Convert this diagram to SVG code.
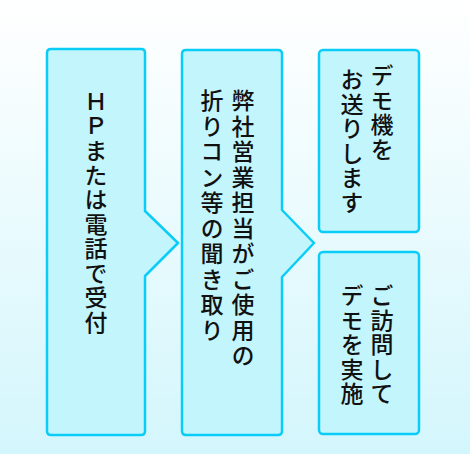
<svg xmlns="http://www.w3.org/2000/svg" width="470" height="454" viewBox="0 0 470 454">
<defs>
<linearGradient id="bg" x1="0" y1="0" x2="0" y2="1">
<stop offset="0" stop-color="#ffffff"/>
<stop offset="1" stop-color="#d3f6fc"/>
</linearGradient>
<style>
.box{fill:#c3f5fd;stroke:#0acdf7;stroke-width:2.5;stroke-linejoin:round}
.t{font-family:"Noto Sans CJK JP","Noto Sans",sans-serif;font-size:23px;font-weight:500;fill:#111;writing-mode:vertical-rl;text-orientation:upright;letter-spacing:1.5px}
.w{letter-spacing:2.5px}
</style>
</defs>
<rect width="470" height="454" fill="url(#bg)"/>
<g id="node-reception">
<path class="box" d="M47,53 Q47,49 51,49 H141 Q145,49 145,53 V211 L178,243 L145,276 V431 Q145,435 141,435 H51 Q47,435 47,431 Z"/>
<text class="t" x="96" y="90">ＨＰまたは電話で受付</text>
</g>
<g id="node-hearing">
<path class="box" d="M182,54 Q182,50 186,50 H278 Q282,50 282,54 V210 L314,243 L282,277 V431 Q282,435 278,435 H186 Q182,435 182,431 Z"/>
<text class="t w" x="243" y="89">弊社営業担当がご使用の</text>
<text class="t w" x="212" y="89">折りコン等の聞き取り</text>
</g>
<g id="node-send-demo">
<rect class="box" x="319" y="50" width="100" height="182" rx="4"/>
<text class="t" x="382" y="64">デモ機を</text>
<text class="t" x="352" y="68">お送りします</text>
</g>
<g id="node-visit-demo">
<rect class="box" x="319" y="252" width="100" height="182" rx="4"/>
<text class="t" x="382" y="284">ご訪問して</text>
<text class="t" x="352" y="284">デモを実施</text>
</g>
<g id="connectors"></g>
</svg>
